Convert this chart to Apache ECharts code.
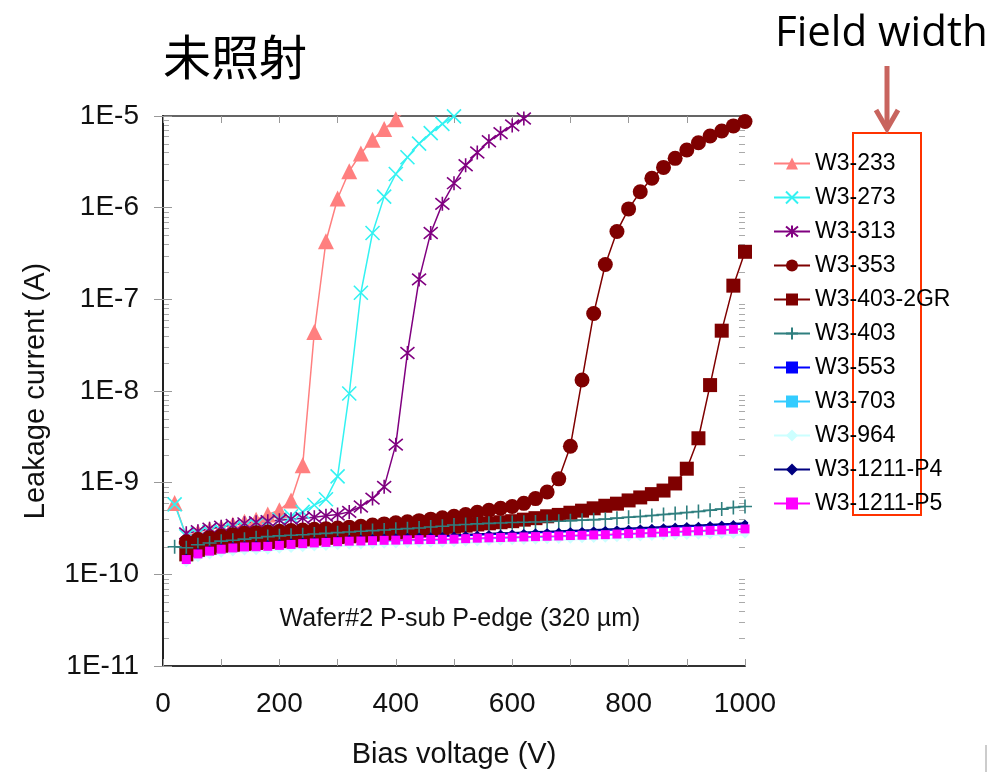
<!DOCTYPE html>
<html>
<head>
<meta charset="utf-8">
<script src="https://cdn.jsdelivr.net/npm/echarts@6/dist/echarts.min.js"></script>
<style>
  html, body { margin: 0; padding: 0; background: #fff; }
  #main { width: 1001px; height: 774px; }
</style>
</head>
<body>
<div id="main"></div>
<script>
'use strict'

// bias voltage (V)
var voltage = [20, 40, 60, 80, 100, 120, 140, 160, 180, 200, 220, 240, 260, 280, 300, 320, 340, 360, 380, 400,
  420, 440, 460, 480, 500, 520, 540, 560, 580, 600, 620, 640, 660, 680, 700, 720, 740, 760, 780, 800,
  820, 840, 860, 880, 900, 920, 940, 960, 980, 1000];

// leakage current (A), one array per device
var w3_233 = [6.0e-10, 2.6e-10, 2.9e-10, 3.1e-10, 3.25e-10, 3.5e-10, 3.75e-10, 3.95e-10, 4.5e-10, 5.0e-10,
  6.4e-10, 1.55e-9, 4.4e-8, 4.3e-7, 1.26e-6, 2.5e-6, 3.9e-6, 5.5e-6, 7.2e-6, 9.2e-6, 1.2e-5];
var w3_273 = [5.8e-10, 2.6e-10, 2.75e-10, 2.9e-10, 3.0e-10, 3.15e-10, 3.3e-10, 3.5e-10, 3.7e-10, 3.95e-10,
  4.3e-10, 4.8e-10, 5.7e-10, 6.6e-10, 1.17e-9, 9.4e-9, 1.18e-7, 5.3e-7, 1.32e-6, 2.33e-6,
  3.55e-6, 5.0e-6, 6.5e-6, 8.2e-6, 9.9e-6, 1.2e-5];
var w3_313 = [null, 2.8e-10, 2.95e-10, 3.15e-10, 3.3e-10, 3.45e-10, 3.6e-10, 3.7e-10, 3.8e-10, 3.9e-10,
  4.0e-10, 4.1e-10, 4.2e-10, 4.35e-10, 4.5e-10, 4.8e-10, 5.5e-10, 6.7e-10, 9.0e-10, 2.6e-9,
  2.6e-8, 1.65e-7, 5.3e-7, 1.1e-6, 1.85e-6, 2.9e-6, 4.0e-6, 5.3e-6, 6.5e-6, 7.9e-6,
  9.4e-6, 1.15e-5];
var w3_353 = [null, 2.25e-10, 2.4e-10, 2.5e-10, 2.6e-10, 2.7e-10, 2.8e-10, 2.85e-10, 2.9e-10, 2.95e-10,
  3.0e-10, 3.05e-10, 3.1e-10, 3.15e-10, 3.2e-10, 3.27e-10, 3.35e-10, 3.45e-10, 3.55e-10, 3.65e-10,
  3.75e-10, 3.85e-10, 4.0e-10, 4.15e-10, 4.3e-10, 4.5e-10, 4.75e-10, 5.0e-10, 5.25e-10, 5.5e-10,
  5.95e-10, 6.7e-10, 7.9e-10, 1.1e-9, 2.5e-9, 1.32e-8, 7.0e-8, 2.4e-7, 5.5e-7, 9.7e-7,
  1.49e-6, 2.09e-6, 2.75e-6, 3.45e-6, 4.26e-6, 5.1e-6, 6.05e-6, 6.86e-6, 7.8e-6, 8.7e-6];
var w3_403_2gr = [null, 1.65e-10, 1.85e-10, 1.95e-10, 2.05e-10, 2.1e-10, 2.15e-10, 2.2e-10, 2.25e-10, 2.3e-10,
  2.35e-10, 2.4e-10, 2.45e-10, 2.5e-10, 2.55e-10, 2.6e-10, 2.65e-10, 2.72e-10, 2.8e-10, 2.88e-10,
  2.95e-10, 3.02e-10, 3.1e-10, 3.2e-10, 3.3e-10, 3.4e-10, 3.5e-10, 3.6e-10, 3.7e-10, 3.8e-10,
  3.95e-10, 4.1e-10, 4.3e-10, 4.45e-10, 4.7e-10, 4.95e-10, 5.25e-10, 5.6e-10, 5.9e-10, 6.4e-10,
  6.9e-10, 7.5e-10, 8.2e-10, 9.8e-10, 1.42e-9, 3.05e-9, 1.16e-8, 4.55e-8, 1.41e-7, 3.3e-7];
var w3_403 = [2.0e-10, 1.95e-10, 2.1e-10, 2.2e-10, 2.3e-10, 2.35e-10, 2.42e-10, 2.5e-10, 2.58e-10, 2.63e-10,
  2.67e-10, 2.7e-10, 2.75e-10, 2.8e-10, 2.85e-10, 2.9e-10, 2.95e-10, 3.0e-10, 3.05e-10, 3.1e-10,
  3.15e-10, 3.2e-10, 3.28e-10, 3.35e-10, 3.45e-10, 3.5e-10, 3.55e-10, 3.6e-10, 3.63e-10, 3.67e-10,
  3.7e-10, 3.73e-10, 3.76e-10, 3.8e-10, 3.85e-10, 3.9e-10, 3.95e-10, 4.0e-10, 4.1e-10, 4.2e-10,
  4.28e-10, 4.38e-10, 4.5e-10, 4.6e-10, 4.72e-10, 4.85e-10, 5.0e-10, 5.15e-10, 5.35e-10, 5.5e-10];
var w3_553 = [null, 1.52e-10, 1.74e-10, 1.86e-10, 1.96e-10, 2.02e-10, 2.07e-10, 2.1e-10, 2.13e-10, 2.18e-10,
  2.22e-10, 2.26e-10, 2.3e-10, 2.33e-10, 2.37e-10, 2.41e-10, 2.43e-10, 2.46e-10, 2.49e-10, 2.51e-10,
  2.54e-10, 2.56e-10, 2.58e-10, 2.6e-10, 2.62e-10, 2.66e-10, 2.69e-10, 2.72e-10, 2.75e-10, 2.78e-10,
  2.81e-10, 2.84e-10, 2.87e-10, 2.9e-10, 2.93e-10, 2.96e-10, 2.99e-10, 3.03e-10, 3.07e-10, 3.11e-10,
  3.15e-10, 3.19e-10, 3.24e-10, 3.28e-10, 3.32e-10, 3.36e-10, 3.41e-10, 3.46e-10, 3.5e-10, 3.55e-10];
var w3_703 = [null, 1.42e-10, 1.63e-10, 1.75e-10, 1.84e-10, 1.9e-10, 1.95e-10, 1.97e-10, 1.99e-10, 2.03e-10,
  2.08e-10, 2.12e-10, 2.16e-10, 2.19e-10, 2.23e-10, 2.26e-10, 2.27e-10, 2.29e-10, 2.31e-10, 2.32e-10,
  2.34e-10, 2.35e-10, 2.36e-10, 2.37e-10, 2.38e-10, 2.41e-10, 2.44e-10, 2.46e-10, 2.48e-10, 2.5e-10,
  2.52e-10, 2.54e-10, 2.56e-10, 2.58e-10, 2.61e-10, 2.63e-10, 2.65e-10, 2.67e-10, 2.71e-10, 2.74e-10,
  2.77e-10, 2.8e-10, 2.84e-10, 2.88e-10, 2.91e-10, 2.94e-10, 2.98e-10, 3.01e-10, 3.06e-10, 3.09e-10];
var w3_964 = [null, 1.32e-10, 1.5e-10, 1.6e-10, 1.68e-10, 1.73e-10, 1.77e-10, 1.79e-10, 1.81e-10, 1.85e-10,
  1.89e-10, 1.93e-10, 1.96e-10, 1.99e-10, 2.02e-10, 2.05e-10, 2.06e-10, 2.08e-10, 2.1e-10, 2.11e-10,
  2.13e-10, 2.14e-10, 2.15e-10, 2.16e-10, 2.19e-10, 2.21e-10, 2.23e-10, 2.25e-10, 2.27e-10, 2.29e-10,
  2.31e-10, 2.33e-10, 2.35e-10, 2.37e-10, 2.39e-10, 2.41e-10, 2.43e-10, 2.45e-10, 2.48e-10, 2.5e-10,
  2.52e-10, 2.55e-10, 2.58e-10, 2.6e-10, 2.62e-10, 2.64e-10, 2.66e-10, 2.68e-10, 2.69e-10, 2.7e-10];
var w3_1211_p4 = [null, 1.55e-10, 1.78e-10, 1.9e-10, 2.0e-10, 2.06e-10, 2.11e-10, 2.14e-10, 2.17e-10, 2.22e-10,
  2.27e-10, 2.31e-10, 2.36e-10, 2.39e-10, 2.43e-10, 2.47e-10, 2.49e-10, 2.52e-10, 2.55e-10, 2.57e-10,
  2.6e-10, 2.62e-10, 2.64e-10, 2.66e-10, 2.68e-10, 2.72e-10, 2.76e-10, 2.79e-10, 2.82e-10, 2.85e-10,
  2.88e-10, 2.91e-10, 2.94e-10, 2.97e-10, 3.0e-10, 3.03e-10, 3.06e-10, 3.1e-10, 3.14e-10, 3.18e-10,
  3.22e-10, 3.26e-10, 3.31e-10, 3.36e-10, 3.4e-10, 3.44e-10, 3.49e-10, 3.54e-10, 3.58e-10, 3.63e-10];
var w3_1211_p5 = [null, 1.45e-10, 1.67e-10, 1.79e-10, 1.88e-10, 1.94e-10, 1.99e-10, 2.0e-10, 2.02e-10, 2.07e-10,
  2.12e-10, 2.16e-10, 2.2e-10, 2.23e-10, 2.27e-10, 2.3e-10, 2.31e-10, 2.33e-10, 2.35e-10, 2.36e-10,
  2.38e-10, 2.39e-10, 2.4e-10, 2.41e-10, 2.42e-10, 2.45e-10, 2.48e-10, 2.5e-10, 2.52e-10, 2.54e-10,
  2.56e-10, 2.58e-10, 2.6e-10, 2.62e-10, 2.65e-10, 2.67e-10, 2.69e-10, 2.71e-10, 2.75e-10, 2.78e-10,
  2.81e-10, 2.84e-10, 2.88e-10, 2.92e-10, 2.95e-10, 2.98e-10, 3.02e-10, 3.05e-10, 3.1e-10, 3.13e-10];

var xTicks = [0, 200, 400, 600, 800, 1000];

var FONT = 'Liberation Sans, Arial, sans-serif';
var X_MARK = 'path://M0,0L10,10M10,0L0,10';
var STAR_MARK = 'path://M0,0L10,10M10,0L0,10M5,-1L5,11';
var PLUS_MARK = 'path://M5,0L5,12M0,6L10,6';

function pairs(values) {
  var out = [];
  for (var i = 0; i < values.length; i++) {
    if (values[i] != null) out.push([voltage[i], values[i]]);
  }
  return out;
}

function line(name, values, color, symbol, size, stroked) {
  return {
    name: name,
    type: 'line',
    data: pairs(values),
    symbol: symbol,
    symbolSize: size,
    showSymbol: true,
    clip: true,
    animation: false,
    lineStyle: { color: color, width: 1.5 },
    itemStyle: stroked
      ? { color: 'rgba(0,0,0,0)', borderColor: color, borderWidth: 1.6 }
      : { color: color, borderWidth: 0 },
    emphasis: { disabled: true }
  };
}

var series = [
  line('W3-233', w3_233, '#FF7F7F', 'triangle', 16, false),
  line('W3-273', w3_273, '#33F2F2', X_MARK, 14, true),
  line('W3-313', w3_313, '#800080', STAR_MARK, 14, true),
  line('W3-353', w3_353, '#7F0000', 'circle', 15, false),
  line('W3-403-2GR', w3_403_2gr, '#7F0000', 'rect', 14, false),
  line('W3-403', w3_403, '#2F7F7F', PLUS_MARK, 14, true),
  line('W3-553', w3_553, '#0000FF', 'rect', [6, 4], false),
  line('W3-703', w3_703, '#33CCFF', 'rect', [7, 4], false),
  line('W3-964', w3_964, '#CCFFFF', 'diamond', 8, false),
  line('W3-1211-P4', w3_1211_p4, '#000080', 'diamond', 7, false),
  line('W3-1211-P5', w3_1211_p5, '#FF00FF', 'rect', 9, false)
];

var chart = echarts.init(document.getElementById('main'));

var option = {
  backgroundColor: '#fff',
  animation: false,
  grid: { left: 163, right: 256, top: 116, bottom: 108 },
  legend: {
    orient: 'vertical',
    left: 773,
    top: 152,
    padding: 0,
    itemWidth: 36,
    itemHeight: 15,
    itemGap: 11,
    textStyle: { fontSize: 23, fontFamily: FONT, color: '#000', lineHeight: 22 },
    data: series.map(function (s) { return s.name; })
  },
  xAxis: [
    {
      type: 'value', min: 0, max: 1000, interval: 100,
      name: 'Bias voltage (V)', nameLocation: 'middle', nameGap: 74,
      nameTextStyle: { fontSize: 29, fontFamily: FONT, color: '#111' },
      axisLine: { lineStyle: { color: '#333', width: 2 } },
      axisTick: { inside: true, length: 7, lineStyle: { color: '#999' } },
      axisLabel: {
        margin: 24, fontSize: 28, fontFamily: FONT, color: '#111',
        formatter: function (v) { return xTicks.indexOf(v) >= 0 ? String(v) : ''; }
      },
      splitLine: { show: false }
    },
    {
      type: 'value', min: 0, max: 1000, interval: 100, position: 'top',
      axisLine: { lineStyle: { color: '#333', width: 1.5 } },
      axisTick: { inside: true, length: 7, lineStyle: { color: '#999' } },
      axisLabel: { show: false },
      splitLine: { show: false }
    }
  ],
  yAxis: [
    {
      type: 'log', logBase: 10, min: 1e-11, max: 1e-5, interval: 1,
      name: 'Leakage current (A)', nameLocation: 'middle', nameGap: 113,
      nameTextStyle: { fontSize: 29, fontFamily: FONT, color: '#111' },
      axisLine: { lineStyle: { color: '#666', width: 2 } },
      axisTick: { inside: true, length: 9, lineStyle: { color: '#999' } },
      axisLabel: {
        margin: 24, fontSize: 28, fontFamily: FONT, color: '#111',
        formatter: function (v) { return '1E' + Math.round(Math.log10(v)); }
      },
      splitLine: { show: false }
    },
    {
      type: 'log', logBase: 10, min: 1e-11, max: 1e-5, interval: 1, position: 'right',
      axisLine: { lineStyle: { color: '#222', width: 2 } },
      axisTick: { inside: true, length: 9, lineStyle: { color: '#999' } },
      axisLabel: { show: false },
      splitLine: { show: false }
    }
  ],
  series: series
};

chart.setOption(option);

// log minor ticks (2..9 of each decade) on both sides, placed through the axis scale
var xl = chart.convertToPixel({ xAxisIndex: 0 }, 0);
var xr = chart.convertToPixel({ xAxisIndex: 0 }, 1000);
var gfx = [];
for (var e = -11; e < -5; e++) {
  for (var k = 2; k <= 9; k++) {
    var y = Math.round(chart.convertToPixel({ yAxisIndex: 0 }, k * Math.pow(10, e))) + 0.5;
    gfx.push({ type: 'line', silent: true, shape: { x1: xl, y1: y, x2: xl + 6, y2: y }, style: { stroke: '#aaa', lineWidth: 1 } });
    gfx.push({ type: 'line', silent: true, shape: { x1: xr, y1: y, x2: xr - 6, y2: y }, style: { stroke: '#aaa', lineWidth: 1 } });
  }
}

// slide annotations
gfx.push(
  { type: 'text', left: 163, top: 33, silent: true,
    style: { text: '未照射', fontSize: 48, fontFamily: 'Noto Sans CJK JP', fill: '#000' } },
  { type: 'text', left: 775, top: 13, silent: true,
    style: { text: 'Field width', fontSize: 42, fontFamily: 'Open Sans', fill: '#000' } },
  { type: 'text', silent: true,
    style: { x: 460, y: 619, text: 'Wafer#2 P-sub P-edge (320 µm)', fontSize: 25, fontFamily: FONT,
      fill: '#111', align: 'center', verticalAlign: 'middle' } },
  { type: 'rect', silent: true, shape: { x: 853, y: 133, width: 68, height: 382 },
    style: { fill: 'none', stroke: '#FF3300', lineWidth: 2 } },
  { type: 'line', silent: true, shape: { x1: 887, y1: 66, x2: 887, y2: 126 },
    style: { stroke: '#C8645E', lineWidth: 5 } },
  { type: 'polyline', silent: true, shape: { points: [[876, 110], [887, 129], [898, 110]] },
    style: { stroke: '#C8645E', lineWidth: 5, fill: 'none', lineJoin: 'miter' } },
  { type: 'line', silent: true, shape: { x1: 986, y1: 745, x2: 986, y2: 772 },
    style: { stroke: '#999', lineWidth: 1 } }
);

chart.setOption({ graphic: gfx });
</script>
</body>
</html>
